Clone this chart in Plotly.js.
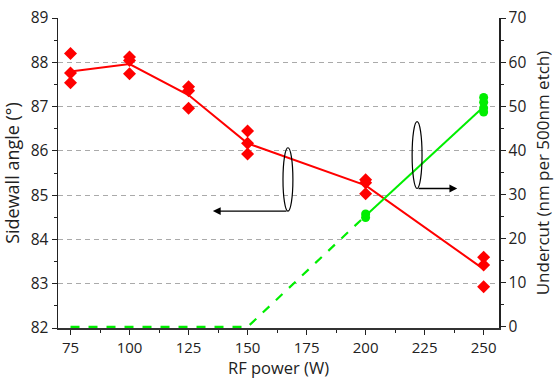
<!DOCTYPE html>
<html>
<head>
<meta charset="utf-8">
<script src="https://cdn.plot.ly/plotly-3.0.1.min.js"></script>
<style>body{margin:0;padding:0;background:#fff;} #chart{width:554px;height:379px;}</style>
</head>
<body>
<div id="chart"></div>
<script>
// RF power levels (W)
const power = [75, 100, 125, 150, 200, 250];
// Sidewall angle mean line (deg)
const angleMean = [87.79, 87.96, 87.26, 86.17, 85.22, 83.33];
// Individual sidewall angle measurements (deg)
const angleX = [75, 75, 75, 100, 100, 100, 125, 125, 125, 150, 150, 150, 200, 200, 200, 250, 250, 250];
const angleY = [88.2, 87.76, 87.54, 88.12, 88.04, 87.74, 87.45, 87.36, 86.96, 86.45, 86.17, 85.93, 85.35, 85.28, 85.03, 83.6, 83.42, 82.93];
// Undercut (nm per 500nm etch)
const undercutDashX = [75, 100, 125, 150, 200];
const undercutDashY = [0, 0, 0, 0, 25.2];
const undercutSolidX = [200, 250];
const undercutSolidY = [25.2, 49.9];
const undercutPtX = [200, 200, 250, 250, 250, 250];
const undercutPtY = [25.6, 24.8, 52.0, 50.9, 49.6, 48.7];

const xTicks = [75, 100, 125, 150, 175, 200, 225, 250];
const yTicks = [82, 83, 84, 85, 86, 87, 88, 89];
const y2Ticks = [0, 10, 20, 30, 40, 50, 60, 70];

const RED = '#ff0000';
const GREEN = '#00ee00';
const FONT = 'Open Sans, Liberation Sans, sans-serif';

const traces = [
  {x: undercutDashX, y: undercutDashY, yaxis: 'y2', mode: 'lines', line: {color: GREEN, width: 2.2, dash: '9px,9px'}},
  {x: undercutSolidX, y: undercutSolidY, yaxis: 'y2', mode: 'lines', line: {color: GREEN, width: 2}},
  {x: undercutPtX, y: undercutPtY, yaxis: 'y2', mode: 'markers', marker: {color: GREEN, size: 9, symbol: 'circle'}},
  {x: power, y: angleMean, mode: 'lines', line: {color: RED, width: 2}},
  {x: angleX, y: angleY, mode: 'markers', marker: {color: RED, size: 10, symbol: 'diamond'}}
];

const layout = {
  width: 554, height: 379,
  margin: {l: 58, r: 55, t: 18, b: 51},
  paper_bgcolor: '#fff', plot_bgcolor: '#fff',
  showlegend: false,
  font: {family: FONT, size: 15, color: '#222'},
  xaxis: {
    range: [69.7, 256.5], tickvals: xTicks, ticks: 'outside', ticklen: 5, tickwidth: 1, tickcolor: '#222',
    showline: true, linecolor: '#333', linewidth: 1.5, showgrid: false, zeroline: false, layer: 'below traces',
    minor: {dtick: 12.5, tick0: 75, ticks: 'outside', ticklen: 3, tickcolor: '#222'},
    title: {text: 'RF power (W)', font: {size: 16.5, family: FONT}},
    tickfont: {size: 15, family: FONT}
  },
  xaxis2: {
    overlaying: 'x', side: 'top', matches: 'x', range: [69.7, 256.5], tickvals: xTicks, ticks: 'inside', ticklen: 5,
    tickcolor: '#222', showticklabels: false, showline: true, linecolor: '#222', linewidth: 1.5, showgrid: false, zeroline: false,
    minor: {dtick: 12.5, tick0: 75, ticks: 'inside', ticklen: 3, tickcolor: '#222'}
  },
  yaxis: {
    range: [82, 89], tickvals: yTicks, ticks: 'outside', ticklen: 5, tickcolor: '#222',
    showline: true, linecolor: '#222', linewidth: 1.5, zeroline: false,
    showgrid: true, gridcolor: '#aaaaaa', griddash: '5px,4px', gridwidth: 1,
    minor: {dtick: 0.5, ticks: 'outside', ticklen: 3, tickcolor: '#222', showgrid: false},
    title: {text: 'Sidewall angle (°)', font: {size: 18, family: FONT}},
    tickfont: {size: 15.5, family: FONT}
  },
  yaxis2: {
    overlaying: 'y', side: 'right', range: [-0.25, 70], tickvals: y2Ticks, ticks: 'outside', ticklen: 5, tickcolor: '#222',
    showline: true, linecolor: '#222', linewidth: 1.5, zeroline: false, showgrid: false,
    minor: {dtick: 5, ticks: 'outside', ticklen: 3, tickcolor: '#222', showgrid: false},
    title: {text: 'Undercut (nm per 500nm etch)', font: {size: 17, family: FONT}},
    tickfont: {size: 15.5, family: FONT}
  },
  shapes: [
    {type: 'circle', xref: 'x', yref: 'y', x0: 165.0, x1: 169.2, y0: 84.64, y1: 86.07, line: {color: '#000', width: 1.2}},
    {type: 'circle', xref: 'x', yref: 'y', x0: 219.7, x1: 223.9, y0: 85.15, y1: 86.66, line: {color: '#000', width: 1.2}}
  ],
  annotations: [
    {xref: 'x', yref: 'y', axref: 'x', ayref: 'y', x: 135.3, y: 84.64, ax: 167.1, ay: 84.64, text: '', showarrow: true, arrowhead: 2, arrowsize: 1.2, arrowwidth: 1.3, arrowcolor: '#000'},
    {xref: 'x', yref: 'y', axref: 'x', ayref: 'y', x: 238.8, y: 85.15, ax: 221.8, ay: 85.15, text: '', showarrow: true, arrowhead: 2, arrowsize: 1.2, arrowwidth: 1.3, arrowcolor: '#000'}
  ]
};

Plotly.newPlot('chart', traces, layout, {displayModeBar: false, staticPlot: true});
</script>
</body>
</html>
